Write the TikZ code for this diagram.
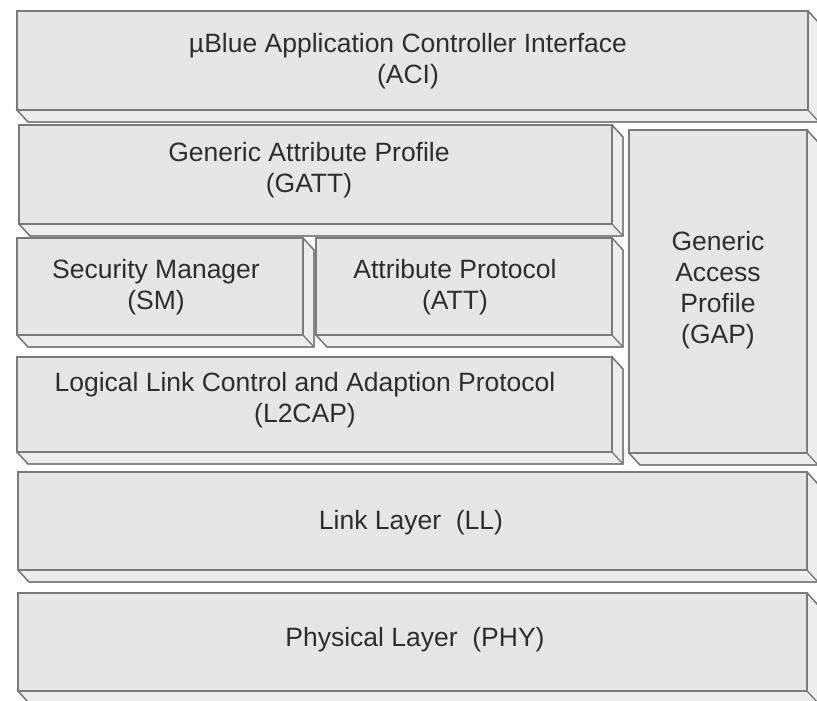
\documentclass[tikz,border=0pt]{standalone}
\usepackage{fontspec}
\setmainfont{Liberation Sans}
\usetikzlibrary{calc}

\definecolor{faceclr}{HTML}{E6E6E7}
\definecolor{bevelclr}{HTML}{EDEDEE}
\definecolor{edgeclr}{HTML}{7A7A7A}
\definecolor{inkclr}{HTML}{2E2E2E}

\tikzset{
  face/.style={draw=edgeclr, fill=faceclr, line width=1.3pt,
    inner sep=0pt, outer sep=0pt, rectangle},
  bevel/.style={draw=edgeclr, fill=bevelclr, line width=1.3pt, line join=miter},
  label/.style={text=inkclr, align=center, inner sep=0pt,
    font=\fontsize{26.5}{31}\selectfont}
}

% one extruded layer block: name, left, top, right, bottom
\newcommand{\layerslab}[5]{%
  \fill[bevel]
    (#2+#4-#2, #3) -- ++(11,12) -- (#4+11, #5+12) -- (#2+11, #5+12)
    -- (#2, #5) -- cycle;
  \node[face, minimum width={(#4-#2)*1pt}, minimum height={(#5-#3)*1pt}]
    (#1) at ({(#2+#4)/2}, {(#3+#5)/2}) {};
  \draw[bevel, fill=none] (#1.north east) -- ++(11,12) -- ($(#1.south east)+(11,12)$)
    -- ($(#1.south west)+(11,12)$) -- (#1.south west);
  \draw[bevel] (#1.south east) -- ++(11,12);
}

\begin{document}
\begin{tikzpicture}[x=1pt, y=-1pt]
  \useasboundingbox (0,0) rectangle (817,701);
  \fill[white] (0,0) rectangle (817,701);

  \layerslab{aci}{17}{11}{808}{110}
  \layerslab{gatt}{19}{125}{612}{224}
  \layerslab{gap}{629}{130}{807}{453}
  \layerslab{sm}{17}{238}{303}{335}
  \layerslab{att}{316}{238}{612}{335}
  \layerslab{l2cap}{17}{357}{612}{452}
  \layerslab{ll}{18}{472}{807}{570}
  \layerslab{phy}{18}{593}{807}{691}

  \node[label] (aci-t)   at (408,61)  {µBlue Application Controller Interface\\(ACI)};
  \node[label] (gatt-t)  at (309,170) {Generic Attribute Profile\\(GATT)};
  \node[label] (gap-t)   at (718,290) {Generic\\Access\\Profile\\(GAP)};
  \node[label] (sm-t)    at (156,287) {Security Manager\\(SM)};
  \node[label] (att-t)   at (455,287) {Attribute Protocol\\(ATT)};
  \node[label] (l2cap-t) at (305,400) {Logical Link Control and Adaption Protocol\\(L2CAP)};
  \node[label] (ll-t)    at (411,523) {Link Layer\ \ (LL)};
  \node[label] (phy-t)   at (415,640) {Physical Layer\ \ (PHY)};
\end{tikzpicture}
\end{document}
